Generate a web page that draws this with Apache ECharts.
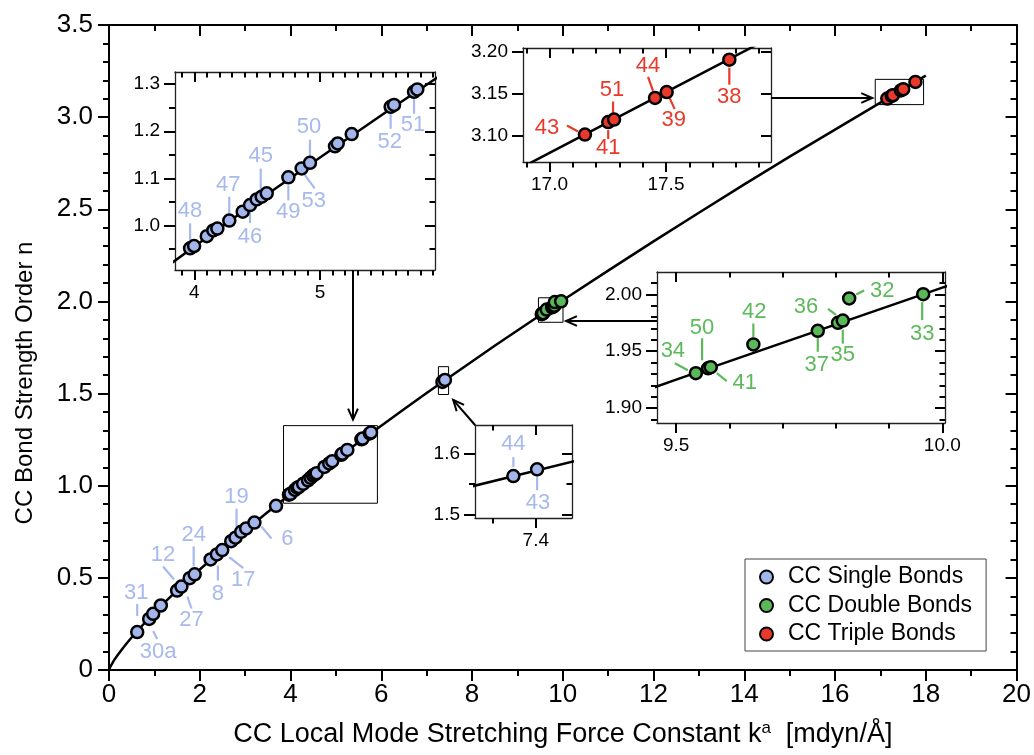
<!DOCTYPE html>
<html>
<head>
<meta charset="utf-8">
<script src="https://cdn.jsdelivr.net/npm/echarts@6/dist/echarts.min.js"></script>
<style>html,body{margin:0;padding:0;background:#fff}#c{width:1034px;height:755px}</style>
</head>
<body>
<div id="c"></div>
<script>
// ---------------- data ----------------
// fitted curve, read at a set of force constants
const curveK = [0,0.02,0.05,0.1,0.15,0.2,0.3,0.4,0.6,0.8,1,1.25,1.5,2,2.5,3,3.5,4,4.5,5,5.5,6,6.5,7,7.5,8,8.5,9,9.5,10,11,12,13,14,15,16,17,17.5,18];
const curveN = [0,0.013,0.027,0.048,0.067,0.084,0.117,0.148,0.206,0.259,0.311,0.372,0.432,0.545,0.653,0.757,0.857,0.955,1.051,1.144,1.236,1.326,1.415,1.503,1.589,1.674,1.759,1.842,1.925,2.006,2.167,2.326,2.481,2.635,2.786,2.932,3.079,3.152,3.225];

// CC single bonds
const singleK = [0.622,0.885,0.973,1.142,1.500,1.596,1.778,1.888,2.239,2.378,2.496,2.693,2.788,2.913,3.023,3.205,3.681,
  3.966,3.998,4.099,4.151,4.183,4.278,4.385,4.443,4.496,4.536,4.576,4.748,4.854,4.920,5.119,5.141,5.252,5.562,5.589,5.748,5.774,
  7.348,7.403];
const singleN = [0.206,0.277,0.305,0.350,0.431,0.453,0.498,0.519,0.600,0.627,0.651,0.699,0.718,0.750,0.768,0.800,0.891,
  0.951,0.956,0.977,0.989,0.993,1.010,1.029,1.043,1.055,1.061,1.068,1.102,1.121,1.133,1.168,1.174,1.194,1.252,1.256,1.284,1.289,
  1.563,1.574];
const singleIds = ['31','30a','','','12','27','','24','','8','17','','19','','','6','',
  '48','','','','','47','','46','','45','','49','53','50','','','','52','','51','',
  '44','43'];

// CC double bonds
const doubleK = [9.537,9.560,9.565,9.645,9.766,9.804,9.813,9.825,9.964];
const doubleN = [1.9307,1.9350,1.9360,1.9560,1.9680,1.9750,1.9770,1.9965,2.0003];
const doubleIds = ['34','50','41','42','37','36','35','32','33'];

// CC triple bonds
const tripleK = [17.152,17.252,17.277,17.453,17.503,17.772];
const tripleN = [3.101,3.116,3.119,3.145,3.152,3.191];
const tripleIds = ['43','41','51','44','39','38'];

// inset axis ranges and ticks
const singleInsetX = [3.846, 5.915], singleInsetY = [0.905, 1.326];
const singleInsetXTicks = [4,5];
const singleInsetXMinor = [3.9,4.1,4.2,4.3,4.4,4.5,4.6,4.7,4.8,4.9,5.1,5.2,5.3,5.4,5.5,5.6,5.7,5.8,5.9];
const singleInsetYTicks = [1.0,1.1,1.2,1.3];
const singleInsetYMinor = [0.95,1.05,1.15,1.25];

const tripleInsetX = [16.886, 17.951], tripleInsetY = [3.068, 3.205];
const tripleInsetXTicks = [17.0,17.5];
const tripleInsetXMinor = [16.9,17.1,17.2,17.3,17.4,17.6,17.7,17.8,17.9];
const tripleInsetYTicks = [3.10,3.15,3.20];
const tripleInsetYMinor = [];

const doubleInsetX = [9.464, 10.005], doubleInsetY = [1.8868, 2.0198];
const doubleInsetXTicks = [9.5,10.0];
const doubleInsetXMinor = [9.6,9.7,9.8,9.9];
const doubleInsetYTicks = [1.90,1.95,2.00];
const doubleInsetYMinor = [1.89,1.91,1.92,1.93,1.94,1.96,1.97,1.98,1.99,2.01];

const midInsetX = [7.259, 7.484], midInsetY = [1.495, 1.646];
const midInsetXTicks = [7.4];
const midInsetXMinor = [7.3];
const midInsetYTicks = [1.5,1.6];
const midInsetYMinor = [1.55];

// ---------------- layout / style (not data) ----------------
const FONT = "'Liberation Sans', Arial, Helvetica, sans-serif";
const BLUE = '#A3B6EC', BLUE_T = '#A7B9EE';
const GREEN = '#5AB859', GREEN_T = '#5CBA5A';
const RED = '#E8392A', RED_T = '#E8392A';
const TICK = {color:'#000', width:2};

// label leader/text offsets in px: [line x1,y1, line x2,y2, text x,y]
const singleLabelPos = {
  '31':[0,-28,0,-16,-1,-39], '30a':[4,12,8,20,9,33], '12':[-14,-24,-3,-11,-14,-36],
  '27':[6,10,10,22,10,33], '24':[-1,-28,-1,-8,-1,-39], '8':[1,11,1,26,1,39],
  '17':[7,7,21,18,21,30], '19':[1,-29,1,-11,1,-41], '6':[7,4,17,16,33,16],
  '48':[0,-25,0,-7,0,-37], '47':[0,-24,0,-7,-1,-36], '45':[-1,-28,-1,-5,-1,-41],
  '50':[0,-23,0,-6,-1,-36], '46':[0,7,0,18,0,32], '49':[0,8,0,23,0,35],
  '53':[2,5,13,20,12,33], '52':[0,7,0,22,-1,35], '51':[0,7,0,22,-1,33],
  '44':[0,-19,0,-9,0,-32], '43':[0,7,0,21,1,34]
};
const doubleLabelPos = {
  '34':[-21,-10,-8,-3,-23,-22], '50':[-6,-30,-6,-8,-6,-40], '41':[6,6,16,14,34,16],
  '42':[0,-21,0,-7,1,-32], '37':[0,7,0,21,-1,34], '36':[-10,-14,-2,-8,-32,-16],
  '35':[0,9,0,23,0,34], '32':[7,-4,15,-8,33,-8], '33':[-1,8,-1,26,-1,40]
};
const tripleLabelPos = {
  '43':[-18,-9,-7,-3,-38,-7], '41':[0,8,0,17,0,26], '51':[-1,-18,-1,-5,-2,-30],
  '44':[-7,-21,-2,-7,-7,-32], '39':[3,6,8,17,7,28], '38':[0,8,0,25,0,37]
};

const G_MAIN = {left:109, top:25, width:911, height:647};
const G_SINGLE = {left:175, top:72, width:260, height:198};
const G_TRIPLE = {left:523, top:48, width:248, height:114};
const G_DOUBLE = {left:657, top:272, width:288, height:151};
const G_MID = {left:475, top:425, width:97, height:93};

// ---------------- build ----------------
const curve = curveK.map((k,i)=>[k, curveN[i]]);
const singlePts = singleK.map((k,i)=>[k, singleN[i]]);
const doublePts = doubleK.map((k,i)=>[k, doubleN[i]]);
const triplePts = tripleK.map((k,i)=>[k, tripleN[i]]);

const inR = (v, r) => v >= r[0] && v <= r[1];
function items(K, N, ids, pos, filt) {
  const out = [];
  K.forEach((k,i)=>{ if (ids[i] && filt(k, N[i])) out.push({k, n:N[i], id:ids[i], pos:pos[ids[i]]}); });
  return out;
}

const xAxes = [], yAxes = [];
const mainLabel = {fontSize:26, color:'#000', fontFamily:FONT};
xAxes.push({gridIndex:0, type:'value', min:0, max:20, interval:2, position:'bottom',
  axisLine:{onZero:false, lineStyle:{color:'#000', width:2}},
  axisTick:{inside:false, length:11, lineStyle:TICK},
  minorTick:{show:true, splitNumber:2, length:6, lineStyle:TICK},
  axisLabel:Object.assign({margin:12}, mainLabel),
  splitLine:{show:false}, minorSplitLine:{show:false},
  name:'CC Local Mode Stretching Force Constant k{sup|a}  [mdyn/Å]', nameLocation:'middle', nameGap:50,
  nameTextStyle:{fontSize:27, color:'#000', fontFamily:FONT, lineHeight:30,
    rich:{sup:{fontSize:17, verticalAlign:'top', lineHeight:17}}}});
xAxes.push({gridIndex:0, type:'value', min:0, max:20, interval:2, position:'top',
  axisLine:{onZero:false, lineStyle:{color:'#000', width:2}},
  axisTick:{inside:true, length:11, lineStyle:TICK},
  minorTick:{show:true, splitNumber:2, length:6, lineStyle:TICK},
  axisLabel:{show:false}, splitLine:{show:false}});
yAxes.push({gridIndex:0, type:'value', min:0, max:3.5, interval:0.5, position:'left',
  axisLine:{onZero:false, lineStyle:{color:'#000', width:2}},
  axisTick:{inside:false, length:11, lineStyle:TICK},
  minorTick:{show:true, splitNumber:5, length:6, lineStyle:TICK},
  axisLabel:Object.assign({margin:16, formatter:v=> v===0 ? '0' : v.toFixed(1)}, mainLabel),
  splitLine:{show:false}});
yAxes.push({gridIndex:0, type:'value', min:0, max:3.5, interval:0.5, position:'right',
  axisLine:{onZero:false, lineStyle:{color:'#000', width:2}},
  axisTick:{inside:true, length:11, lineStyle:TICK},
  minorTick:{show:true, splitNumber:5, length:6, lineStyle:TICK},
  axisLabel:{show:false}, splitLine:{show:false}});

function addInset(gi, xr, yr, xMaj, xMin, yMaj, yMin, xDec, yDec) {
  const xi = xAxes.length, yi = yAxes.length;
  const line = {onZero:false, lineStyle:{color:'#222', width:1.3}};
  const noLine = {show:false, onZero:false};
  const lab = {fontSize:19, color:'#000', fontFamily:FONT};
  const c = (extra) => Object.assign({gridIndex:gi, type:'value', splitLine:{show:false}}, extra);
  const tk = (vals, inside, len) => vals.length ? {show:true, inside, length:len, lineStyle:TICK, customValues:vals} : {show:false};
  xAxes.push(c({min:xr[0], max:xr[1], position:'bottom', axisLine:line, axisTick:tk(xMaj,false,10),
    axisLabel:Object.assign({margin:13, customValues:xMaj, formatter:v=>v.toFixed(xDec)}, lab)}));
  xAxes.push(c({min:xr[0], max:xr[1], position:'bottom', axisLine:noLine, axisTick:tk(xMin,false,5.5), axisLabel:{show:false}}));
  xAxes.push(c({min:xr[0], max:xr[1], position:'top', axisLine:line, axisTick:tk(xMaj,true,10), axisLabel:{show:false}}));
  xAxes.push(c({min:xr[0], max:xr[1], position:'top', axisLine:noLine, axisTick:tk(xMin,true,5.5), axisLabel:{show:false}}));
  yAxes.push(c({min:yr[0], max:yr[1], position:'left', axisLine:line, axisTick:tk(yMaj,false,11),
    axisLabel:Object.assign({margin:15, customValues:yMaj, formatter:v=>v.toFixed(yDec)}, lab)}));
  yAxes.push(c({min:yr[0], max:yr[1], position:'left', axisLine:noLine, axisTick:tk(yMin,false,6), axisLabel:{show:false}}));
  yAxes.push(c({min:yr[0], max:yr[1], position:'right', axisLine:line, axisTick:tk(yMaj,true,10), axisLabel:{show:false}}));
  yAxes.push(c({min:yr[0], max:yr[1], position:'right', axisLine:noLine, axisTick:tk(yMin,true,5.5), axisLabel:{show:false}}));
  return [xi, yi];
}

const [sxI, syI] = addInset(1, singleInsetX, singleInsetY, singleInsetXTicks, singleInsetXMinor, singleInsetYTicks, singleInsetYMinor, 0, 1);
const [txI, tyI] = addInset(2, tripleInsetX, tripleInsetY, tripleInsetXTicks, tripleInsetXMinor, tripleInsetYTicks, tripleInsetYMinor, 1, 2);
const [dxI, dyI] = addInset(3, doubleInsetX, doubleInsetY, doubleInsetXTicks, doubleInsetXMinor, doubleInsetYTicks, doubleInsetYMinor, 1, 2);
const [mxI, myI] = addInset(4, midInsetX, midInsetY, midInsetXTicks, midInsetXMinor, midInsetYTicks, midInsetYMinor, 1, 1);

function curveSeries(xi, yi, extra) {
  return Object.assign({type:'line', xAxisIndex:xi, yAxisIndex:yi, data:curve, showSymbol:false, symbol:'none',
    smooth:false, lineStyle:{color:'#000', width:2.5, join:'round'}, silent:true, z:2, clip:true}, extra || {});
}
function labelSeries(its, color, xi, yi) {
  return {type:'custom', xAxisIndex:xi, yAxisIndex:yi, silent:true, z:3, clip:false,
    data: its.map(it=>[it.k, it.n]),
    renderItem: (params, api) => {
      const it = its[params.dataIndex];
      const p = api.coord([it.k, it.n]);
      const o = it.pos;
      return {type:'group', children:[
        {type:'line', shape:{x1:p[0]+o[0], y1:p[1]+o[1], x2:p[0]+o[2], y2:p[1]+o[3]}, style:{stroke:color, lineWidth:2.2}},
        {type:'text', x:p[0]+o[4], y:p[1]+o[5], style:{text:it.id, fill:color, fontSize:22, fontFamily:FONT, align:'center', verticalAlign:'middle'}}
      ]};
    }};
}
function scatterSeries(name, pts, color, xi, yi) {
  return {type:'scatter', name, xAxisIndex:xi, yAxisIndex:yi, data:pts, symbol:'circle', symbolSize:12, clip:true, z:4,
    itemStyle:{color, borderColor:'#000', borderWidth:2.5, opacity:1}, emphasis:{disabled:true}, silent:true};
}

const boxStyle = {color:'rgba(0,0,0,0)', borderColor:'#000', borderWidth:1};
const boxes = [[singleInsetX, singleInsetY],[tripleInsetX, tripleInsetY],[doubleInsetX, doubleInsetY],[midInsetX, midInsetY]]
  .map(([xr, yr]) => [{coord:[xr[0], yr[0]]}, {coord:[xr[1], yr[1]]}]);

const S = 'CC Single Bonds', D = 'CC Double Bonds', T = 'CC Triple Bonds';
const series = [
  curveSeries(0, 0, {markArea:{silent:true, itemStyle:boxStyle, label:{show:false}, data:boxes}}),
  labelSeries(items(singleK, singleN, singleIds, singleLabelPos, k=>k < singleInsetX[0]), BLUE_T, 0, 0),
  scatterSeries(S, singlePts, BLUE, 0, 0),
  scatterSeries(D, doublePts, GREEN, 0, 0),
  scatterSeries(T, triplePts, RED, 0, 0),
  // single inset
  curveSeries(sxI, syI),
  labelSeries(items(singleK, singleN, singleIds, singleLabelPos, (k,n)=>inR(k,singleInsetX)&&inR(n,singleInsetY)), BLUE_T, sxI, syI),
  scatterSeries(S, singlePts, BLUE, sxI, syI),
  // triple inset
  curveSeries(txI, tyI),
  labelSeries(items(tripleK, tripleN, tripleIds, tripleLabelPos, ()=>true), RED_T, txI, tyI),
  scatterSeries(T, triplePts, RED, txI, tyI),
  // double inset
  curveSeries(dxI, dyI),
  labelSeries(items(doubleK, doubleN, doubleIds, doubleLabelPos, ()=>true), GREEN_T, dxI, dyI),
  scatterSeries(D, doublePts, GREEN, dxI, dyI),
  // 7.4 inset
  curveSeries(mxI, myI),
  labelSeries(items(singleK, singleN, singleIds, singleLabelPos, (k,n)=>inR(k,midInsetX)&&inR(n,midInsetY)), BLUE_T, mxI, myI),
  scatterSeries(S, singlePts, BLUE, mxI, myI)
];

const chart = echarts.init(document.getElementById('c'), null, {renderer:'canvas', width:1034, height:755});
const inset = g => Object.assign({show:true, backgroundColor:'#fff', borderWidth:0, containLabel:false}, g);
chart.setOption({
  animation:false,
  backgroundColor:'#fff',
  textStyle:{fontFamily:FONT},
  grid:[Object.assign({containLabel:false}, G_MAIN), inset(G_SINGLE), inset(G_TRIPLE), inset(G_DOUBLE), inset(G_MID)],
  xAxis:xAxes, yAxis:yAxes,
  legend:{data:[S,D,T], orient:'vertical', left:745, top:559, padding:[6,14,5,14], itemGap:4.5,
    itemWidth:13, itemHeight:13, backgroundColor:'#fff', borderColor:'#444', borderWidth:1, selectedMode:false,
    textStyle:{fontSize:23, color:'#000', fontFamily:FONT, lineHeight:24, padding:[0,0,0,10]}},
  series:series
});

// arrows from the insets to their boxes + y-axis title
function px(pt){ return chart.convertToPixel({xAxisIndex:0, yAxisIndex:0}, pt); }
function arrow(x1,y1,x2,y2){
  const a = Math.atan2(y2-y1, x2-x1), L = 12, w = 0.42;
  return [
    {type:'line', shape:{x1,y1,x2,y2}, style:{stroke:'#000', lineWidth:2}, z:100, silent:true},
    {type:'polyline', shape:{points:[[x2-L*Math.cos(a-w), y2-L*Math.sin(a-w)],[x2,y2],[x2-L*Math.cos(a+w), y2-L*Math.sin(a+w)]]},
      style:{stroke:'#000', lineWidth:2, fill:null}, z:100, silent:true}
  ];
}
const sTop = px([singleInsetX[0], singleInsetY[1]])[1];
const tLeft = px([tripleInsetX[0], tripleInsetY[0]])[0];
const dRight = px([doubleInsetX[1], doubleInsetY[0]])[0];
const mBR = px([midInsetX[1], midInsetY[0]]);
const m0 = [G_MID.left, G_MID.top];
const md = Math.hypot(mBR[0]-m0[0], mBR[1]-m0[1]);
const mTip = [mBR[0] + (m0[0]-mBR[0])*7/md, mBR[1] + (m0[1]-mBR[1])*7/md];
const graphics = [].concat(
  arrow(353, G_SINGLE.top + G_SINGLE.height, 353, sTop - 6),
  arrow(G_TRIPLE.left + G_TRIPLE.width, 98, tLeft - 3, 98),
  arrow(G_DOUBLE.left, 321, dRight + 3, 321),
  arrow(m0[0], m0[1], mTip[0], mTip[1]),
  [{type:'text', x:25, y:383, rotation:Math.PI/2, z:100, silent:true,
    style:{text:'CC Bond Strength Order n', fontSize:24, fontFamily:FONT, fill:'#000', align:'center', verticalAlign:'middle'}}]
);
chart.setOption({graphic:graphics});
</script>
</body>
</html>
